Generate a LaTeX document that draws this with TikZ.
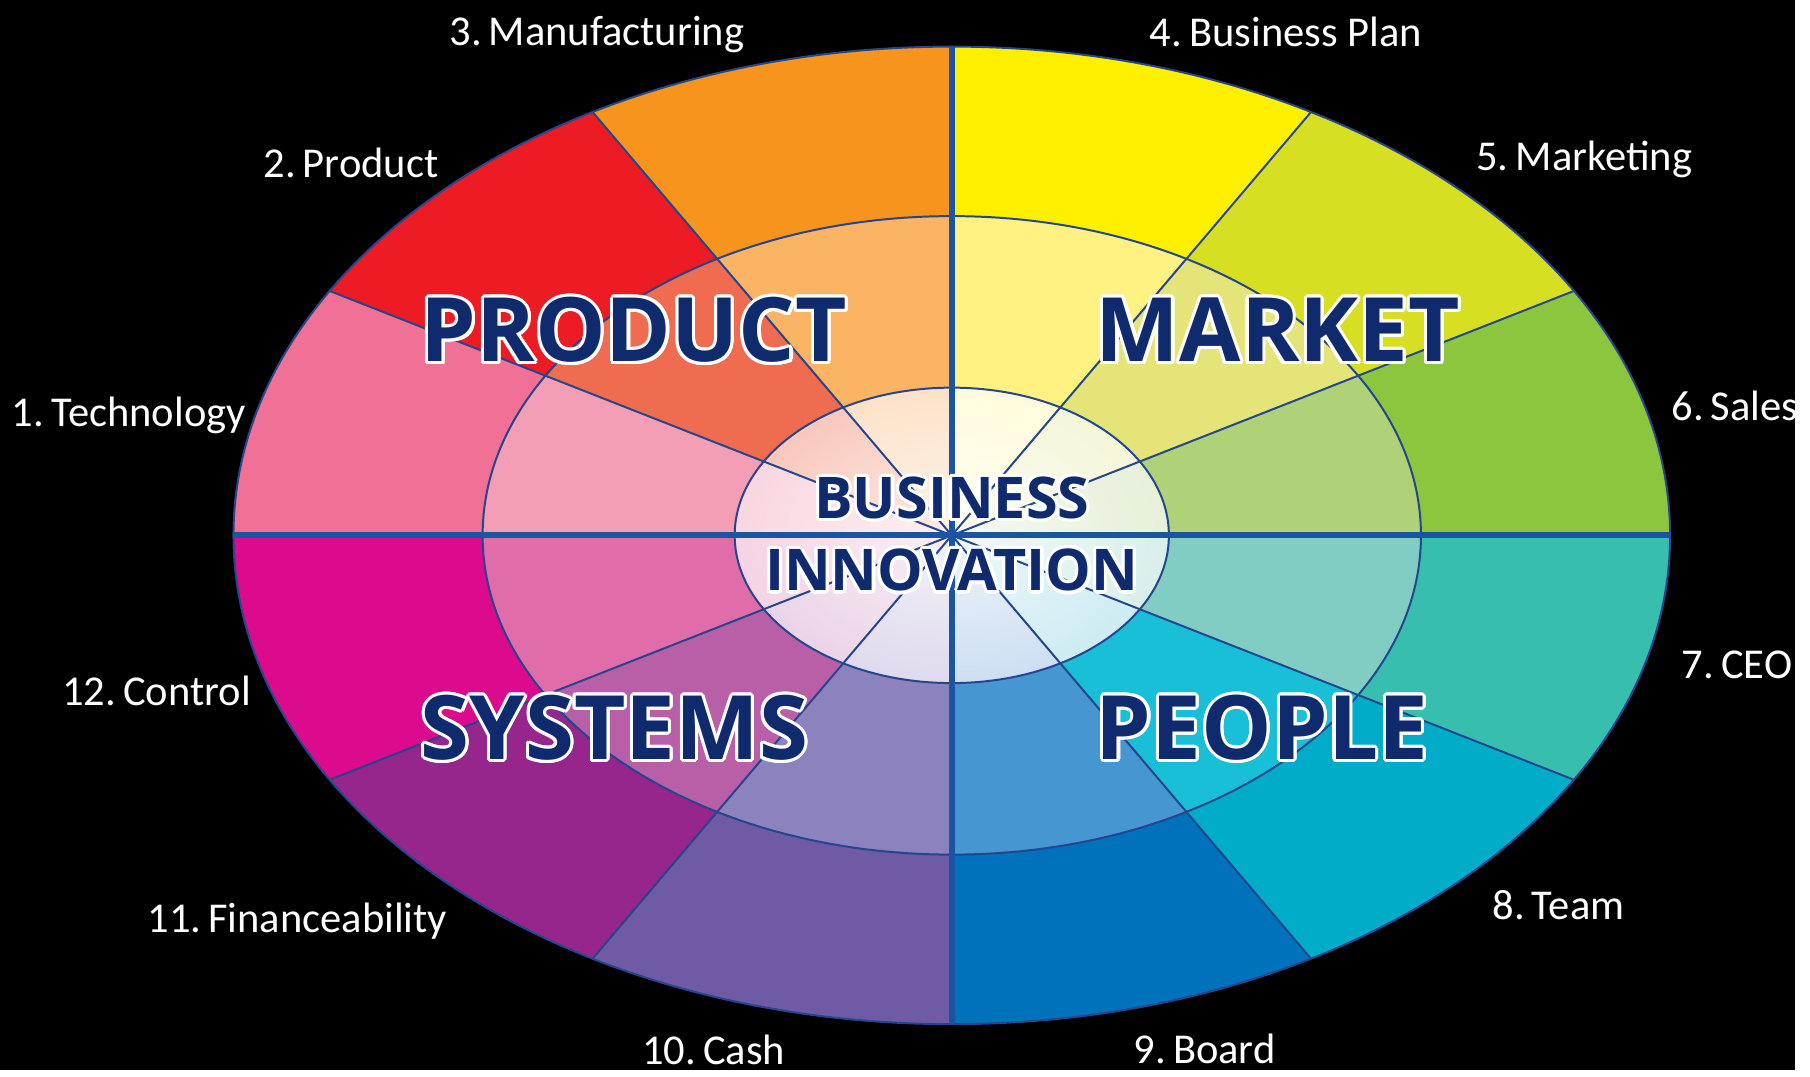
\documentclass[tikz,border=0pt]{standalone}
\usepackage{fontspec}
\usepackage{contour}
\usetikzlibrary{fadings}
\newfontfamily\labelfont{Carlito}
\newfontfamily\titlefont{Open Sans}
\contourlength{0.9pt}
\contournumber{16}

\definecolor{tecO}{RGB}{240,112,150}
\definecolor{tecM}{RGB}{243,158,180}
\definecolor{tecI}{RGB}{246,185,202}
\definecolor{proO}{RGB}{237,28,36}
\definecolor{proM}{RGB}{240,108,80}
\definecolor{proI}{RGB}{245,160,140}
\definecolor{manO}{RGB}{247,148,30}
\definecolor{manM}{RGB}{250,180,100}
\definecolor{manI}{RGB}{252,205,160}
\definecolor{bplO}{RGB}{255,240,0}
\definecolor{bplM}{RGB}{255,242,130}
\definecolor{bplI}{RGB}{255,248,195}
\definecolor{mktO}{RGB}{215,223,35}
\definecolor{mktM}{RGB}{228,228,120}
\definecolor{mktI}{RGB}{238,240,190}
\definecolor{salO}{RGB}{140,198,63}
\definecolor{salM}{RGB}{175,210,120}
\definecolor{salI}{RGB}{212,230,190}
\definecolor{ceoO}{RGB}{55,190,175}
\definecolor{ceoM}{RGB}{130,205,195}
\definecolor{ceoI}{RGB}{190,228,222}
\definecolor{teaO}{RGB}{0,172,200}
\definecolor{teaM}{RGB}{25,190,215}
\definecolor{teaI}{RGB}{170,222,235}
\definecolor{brdO}{RGB}{0,114,188}
\definecolor{brdM}{RGB}{70,150,210}
\definecolor{brdI}{RGB}{170,200,235}
\definecolor{casO}{RGB}{110,90,165}
\definecolor{casM}{RGB}{140,130,190}
\definecolor{casI}{RGB}{200,192,225}
\definecolor{finO}{RGB}{150,38,140}
\definecolor{finM}{RGB}{185,95,168}
\definecolor{finI}{RGB}{222,180,215}
\definecolor{conO}{RGB}{220,10,140}
\definecolor{conM}{RGB}{225,108,170}
\definecolor{conI}{RGB}{236,180,210}
\definecolor{lineaBlu}{RGB}{35,70,140}
\definecolor{asseBlu}{RGB}{25,85,160}
\definecolor{bluNotte}{RGB}{16,42,110}

\pgfdeclareradialshading{glowshading}{\pgfpointorigin}{color(0bp)=(black!20); color(20bp)=(black!50); color(50bp)=(black)}
\pgfdeclarefading{glow}{\pgfuseshading{glowshading}}

\begin{document}
\begin{tikzpicture}[x=0.1mm, y=0.1mm,
    voce/.style={text=white, font=\labelfont\fontsize{12.2}{14}\selectfont, anchor=base},
    quadrante/.style={text=bluNotte, font=\titlefont\bfseries\fontsize{25.5}{30}\selectfont, anchor=base west},
    centro/.style={text=bluNotte, font=\titlefont\bfseries\fontsize{16.5}{20}\selectfont, anchor=base},
    raggio/.style={draw=lineaBlu, line width=0.2mm},
    asse/.style={draw=asseBlu, line width=0.58mm},
]

% Sfondo
\fill[black] (0,0) rectangle (1810,1079);

\begin{scope}[shift={(960,539)}, xscale=1.4696]
% Anello esterno
\fill[tecO] (0,0) -- (150:493) arc[start angle=150, end angle=180, radius=493] -- cycle;
\fill[proO] (0,0) -- (120:493) arc[start angle=120, end angle=150, radius=493] -- cycle;
\fill[manO] (0,0) -- (90:493) arc[start angle=90, end angle=120, radius=493] -- cycle;
\fill[bplO] (0,0) -- (60:493) arc[start angle=60, end angle=90, radius=493] -- cycle;
\fill[mktO] (0,0) -- (30:493) arc[start angle=30, end angle=60, radius=493] -- cycle;
\fill[salO] (0,0) -- (0:493) arc[start angle=0, end angle=30, radius=493] -- cycle;
\fill[ceoO] (0,0) -- (-30:493) arc[start angle=-30, end angle=0, radius=493] -- cycle;
\fill[teaO] (0,0) -- (-60:493) arc[start angle=-60, end angle=-30, radius=493] -- cycle;
\fill[brdO] (0,0) -- (-90:493) arc[start angle=-90, end angle=-60, radius=493] -- cycle;
\fill[casO] (0,0) -- (-120:493) arc[start angle=-120, end angle=-90, radius=493] -- cycle;
\fill[finO] (0,0) -- (-150:493) arc[start angle=-150, end angle=-120, radius=493] -- cycle;
\fill[conO] (0,0) -- (-180:493) arc[start angle=-180, end angle=-150, radius=493] -- cycle;

% Anello medio
\fill[tecM] (0,0) -- (150:322) arc[start angle=150, end angle=180, radius=322] -- cycle;
\fill[proM] (0,0) -- (120:322) arc[start angle=120, end angle=150, radius=322] -- cycle;
\fill[manM] (0,0) -- (90:322) arc[start angle=90, end angle=120, radius=322] -- cycle;
\fill[bplM] (0,0) -- (60:322) arc[start angle=60, end angle=90, radius=322] -- cycle;
\fill[mktM] (0,0) -- (30:322) arc[start angle=30, end angle=60, radius=322] -- cycle;
\fill[salM] (0,0) -- (0:322) arc[start angle=0, end angle=30, radius=322] -- cycle;
\fill[ceoM] (0,0) -- (-30:322) arc[start angle=-30, end angle=0, radius=322] -- cycle;
\fill[teaM] (0,0) -- (-60:322) arc[start angle=-60, end angle=-30, radius=322] -- cycle;
\fill[brdM] (0,0) -- (-90:322) arc[start angle=-90, end angle=-60, radius=322] -- cycle;
\fill[casM] (0,0) -- (-120:322) arc[start angle=-120, end angle=-90, radius=322] -- cycle;
\fill[finM] (0,0) -- (-150:322) arc[start angle=-150, end angle=-120, radius=322] -- cycle;
\fill[conM] (0,0) -- (-180:322) arc[start angle=-180, end angle=-150, radius=322] -- cycle;

% Anello interno
\fill[tecI] (0,0) -- (150:149) arc[start angle=150, end angle=180, radius=149] -- cycle;
\fill[proI] (0,0) -- (120:149) arc[start angle=120, end angle=150, radius=149] -- cycle;
\fill[manI] (0,0) -- (90:149) arc[start angle=90, end angle=120, radius=149] -- cycle;
\fill[bplI] (0,0) -- (60:149) arc[start angle=60, end angle=90, radius=149] -- cycle;
\fill[mktI] (0,0) -- (30:149) arc[start angle=30, end angle=60, radius=149] -- cycle;
\fill[salI] (0,0) -- (0:149) arc[start angle=0, end angle=30, radius=149] -- cycle;
\fill[ceoI] (0,0) -- (-30:149) arc[start angle=-30, end angle=0, radius=149] -- cycle;
\fill[teaI] (0,0) -- (-60:149) arc[start angle=-60, end angle=-30, radius=149] -- cycle;
\fill[brdI] (0,0) -- (-90:149) arc[start angle=-90, end angle=-60, radius=149] -- cycle;
\fill[casI] (0,0) -- (-120:149) arc[start angle=-120, end angle=-90, radius=149] -- cycle;
\fill[finI] (0,0) -- (-150:149) arc[start angle=-150, end angle=-120, radius=149] -- cycle;
\fill[conI] (0,0) -- (-180:149) arc[start angle=-180, end angle=-150, radius=149] -- cycle;
\fill[white, path fading=glow] (0,0) circle[radius=149];

% Raggi e contorni
\draw[raggio] (0,0) -- (30:493);
\draw[raggio] (0,0) -- (60:493);
\draw[raggio] (0,0) -- (120:493);
\draw[raggio] (0,0) -- (150:493);
\draw[raggio] (0,0) -- (210:493);
\draw[raggio] (0,0) -- (240:493);
\draw[raggio] (0,0) -- (300:493);
\draw[raggio] (0,0) -- (330:493);
\draw[raggio] (0,0) circle[radius=149];
\draw[raggio] (0,0) circle[radius=322];
\draw[raggio] (0,0) circle[radius=493];
\draw[asse] (180:493) -- (0:493);
\draw[asse] (90:493) -- (270:493);
\end{scope}

% Voci
\node[voce] (tecnologia) at (130,649) {1.\,Technology};
\node[voce] (prodotto) at (354,900) {2.\,Product};
\node[voce] (produzione) at (602,1033) {3.\,Manufacturing};
\node[voce] (piano) at (1297,1032) {4.\,Business Plan};
\node[voce] (marketing) at (1598,907) {5.\,Marketing};
\node[voce] (vendite) at (1750,655) {6.\,Sales};
\node[voce] (ceo) at (1752,395) {7.\,CEO};
\node[voce] (team) at (1572,152) {8.\,Team};
\node[voce] (board) at (1215,6) {9.\,Board};
\node[voce] (cassa) at (720,5) {10.\,Cash};
\node[voce] (finanza) at (300,138) {11.\,Financeability};
\node[voce] (controllo) at (158,367) {12.\,Control};

% Quadranti
\node[quadrante] (product) at (412,714) {\contour{white}{PRODUCT}};
\node[quadrante] (market) at (1093,714) {\contour{white}{MARKET}};
\node[quadrante] (systems) at (412,313) {\contour{white}{SYSTEMS}};
\node[quadrante] (people) at (1093,313) {\contour{white}{PEOPLE}};

% Centro
\node[centro] (business) at (960,556) {\contour{white}{BUSINESS}};
\node[centro] (innovation) at (960,483) {\contour{white}{INNOVATION}};

\end{tikzpicture}
\end{document}
